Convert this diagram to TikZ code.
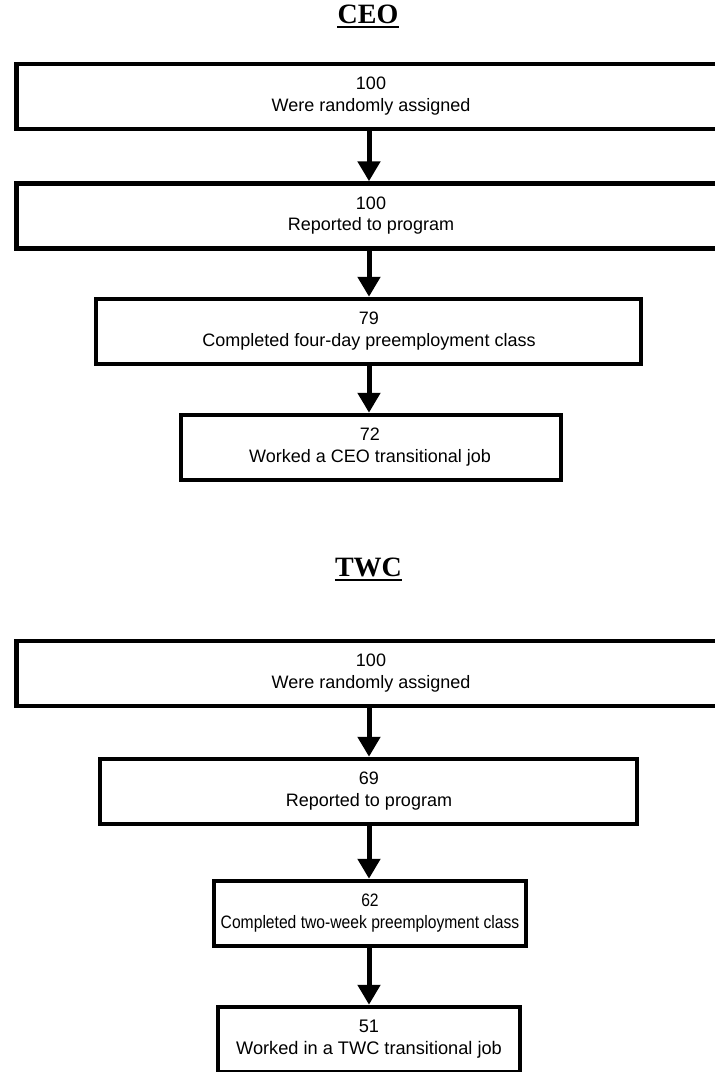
\documentclass[tikz,border=0pt]{standalone}
\usepackage{fontspec}
\setmainfont{Liberation Serif}
\newfontfamily\arialf{Liberation Sans}
\usetikzlibrary{arrows.meta}
\begin{document}
\begin{tikzpicture}[x=1pt,y=-1pt,
  box/.style={draw, line width=4.5pt, rectangle, inner sep=0pt, minimum height=65pt},
  txt/.style 2 args={font=\arialf\fontsize{#1}{#2}\selectfont, align=center, inner sep=0pt},
  ttl/.style={font=\fontsize{28}{32}\selectfont\bfseries, inner sep=0pt, anchor=base},
  uline/.style={line width=2.5pt},
  arr/.style={line width=5pt, -{Triangle[width=22pt,length=20pt]}}]
\clip (0,0) rectangle (715,1072);
\fill[white] (0,0) rectangle (715,1072);
% CEO
\node[ttl] (t1) at (368,23) {CEO};
\draw[uline] ([yshift=-4pt]t1.base west) -- ([yshift=-4pt]t1.base east);
\node[box, minimum width=740pt, anchor=west] (b1) at (14,96.5) {};
\node[txt={18}{21.5}] (x1) at (371,96) {100\\Were randomly assigned};
\node[box, minimum width=740pt, anchor=west] (b2) at (14,216) {};
\node[txt={18}{21.5}] (x2) at (371,215.5) {100\\Reported to program};
\node[box, minimum width=545pt] (b3) at (368.5,331.5) {};
\node[txt={18}{21.5}] (x3) at (369,331) {79\\Completed four-day preemployment class};
\node[box, minimum width=380pt] (b4) at (371,447.5) {};
\node[txt={18}{21.5}] (x4) at (370,447) {72\\Worked a CEO transitional job};
\coordinate (ca) at (369,0);
\draw[arr] (b1.south -| ca) -- (b2.north -| ca);
\draw[arr] (b2.south -| ca) -- (b3.north -| ca);
\draw[arr] (b3.south -| ca) -- (b4.north -| ca);
% TWC
\node[ttl] (t2) at (368.5,576) {TWC};
\draw[uline] ([yshift=-4pt]t2.base west) -- ([yshift=-4pt]t2.base east);
\node[box, minimum width=740pt, anchor=west] (b5) at (14,673.5) {};
\node[txt={18}{21.5}] (x5) at (371,673) {100\\Were randomly assigned};
\node[box, minimum width=537pt] (b6) at (368.5,791.5) {};
\node[txt={18}{21.5}] (x6) at (369,791) {69\\Reported to program};
\node[box, minimum width=312pt] (b7) at (370,913.5) {};
\node[txt={18}{21.5}] (x7) at (370,913) {\scalebox{0.87}[1]{62}\\\scalebox{0.87}[1]{Completed two-week preemployment class}};
\node[box, minimum width=302pt] (b8) at (369,1039.5) {};
\node[txt={18.2}{22}] (x8) at (369,1039) {51\\Worked in a TWC transitional job};
\draw[arr] (b5.south -| ca) -- (b6.north -| ca);
\draw[arr] (b6.south -| ca) -- (b7.north -| ca);
\draw[arr] (b7.south -| ca) -- (b8.north -| ca);
\end{tikzpicture}
\end{document}
